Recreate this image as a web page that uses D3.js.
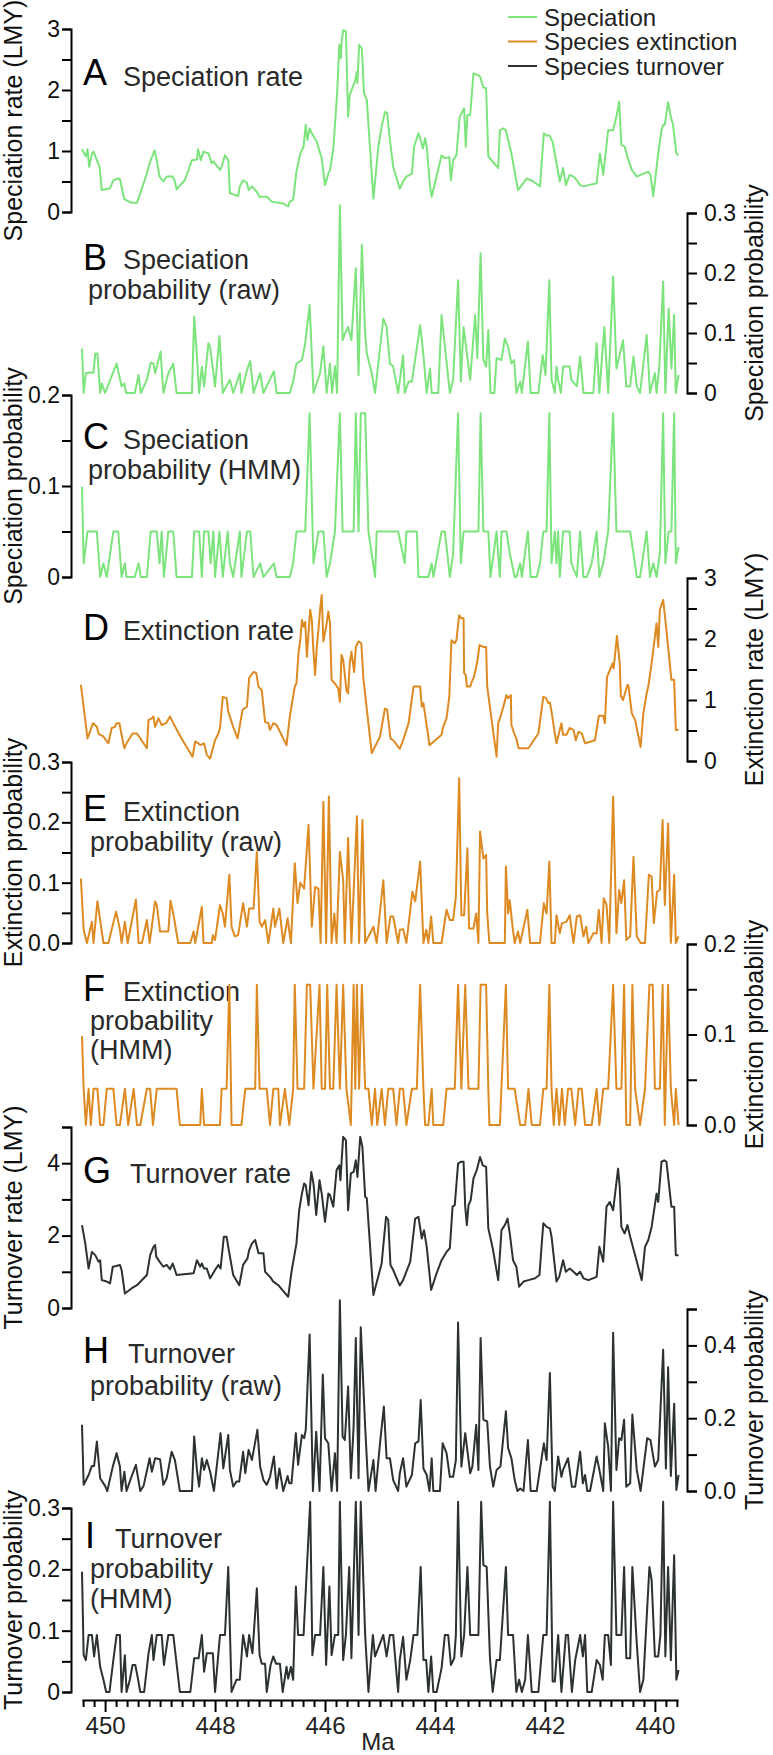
<!DOCTYPE html>
<html><head><meta charset="utf-8">
<script src="https://cdn.jsdelivr.net/npm/d3@7"></script>
<style>body{margin:0;background:#fff}svg{display:block}text{font-family:"Liberation Sans",Arial,Helvetica,sans-serif}</style>
</head><body><svg id="c" width="773" height="1755"></svg>
<script>
// ---------- DATA (Ma, value) ----------
const legendLabels = ["Speciation", "Species extinction", "Species turnover"];
const xMajorTicks = [450, 448, 446, 444, 442, 440];
const xAxisTitle = "Ma";

const speciationRate = [[450.42,1.03],[450.35,0.91],[450.32,1.03],[450.29,0.74],[450.24,0.96],[450.21,0.99],[450.15,0.85],[450.10,0.74],[450.06,0.36],[449.91,0.39],[449.85,0.52],[449.76,0.55],[449.73,0.54],[449.65,0.21],[449.52,0.15],[449.42,0.15],[449.24,0.63],[449.19,0.80],[449.10,1.01],[449.06,0.85],[449.01,0.58],[448.94,0.50],[448.88,0.58],[448.77,0.58],[448.73,0.50],[448.70,0.37],[448.55,0.52],[448.42,0.85],[448.33,0.86],[448.31,1.03],[448.29,0.96],[448.26,0.85],[448.21,0.99],[448.12,0.96],[448.06,0.80],[448.03,0.83],[447.91,0.69],[447.88,0.74],[447.82,0.93],[447.76,0.85],[447.73,0.31],[447.58,0.26],[447.55,0.42],[447.49,0.52],[447.42,0.48],[447.39,0.36],[447.33,0.42],[447.24,0.33],[447.19,0.25],[447.06,0.25],[446.97,0.17],[446.76,0.14],[446.67,0.09],[446.64,0.17],[446.58,0.20],[446.52,0.66],[446.45,0.96],[446.39,1.07],[446.35,1.43],[446.32,1.18],[446.28,1.37],[446.24,1.29],[446.15,1.15],[446.06,0.88],[446.00,0.44],[445.94,0.63],[445.91,0.69],[445.85,1.02],[445.78,1.95],[445.74,2.74],[445.71,2.52],[445.70,2.77],[445.67,2.98],[445.62,2.96],[445.58,1.56],[445.55,1.92],[445.45,2.16],[445.42,2.30],[445.41,2.11],[445.38,2.74],[445.33,2.68],[445.29,1.95],[445.24,1.84],[445.12,0.22],[445.03,1.07],[444.97,1.40],[444.91,1.64],[444.87,1.62],[444.82,1.18],[444.76,0.74],[444.64,0.38],[444.58,0.50],[444.52,0.58],[444.42,0.63],[444.38,1.07],[444.30,1.29],[444.26,1.18],[444.22,1.04],[444.18,1.21],[444.15,1.07],[444.09,0.42],[444.06,0.25],[443.88,0.93],[443.82,0.88],[443.74,0.90],[443.71,0.52],[443.67,0.85],[443.61,0.93],[443.55,1.56],[443.47,1.70],[443.44,1.07],[443.41,1.59],[443.36,1.59],[443.30,2.27],[443.23,2.25],[443.18,2.22],[443.12,2.04],[443.07,2.03],[443.03,0.91],[442.85,0.72],[442.82,1.34],[442.76,1.37],[442.71,1.34],[442.64,1.07],[442.61,0.96],[442.49,0.36],[442.33,0.55],[442.21,0.50],[442.09,0.42],[442.02,1.29],[441.97,1.25],[441.92,1.26],[441.86,1.15],[441.79,0.80],[441.73,0.50],[441.67,0.72],[441.62,0.44],[441.55,0.61],[441.48,0.58],[441.42,0.52],[441.36,0.44],[441.30,0.42],[441.06,0.47],[441.00,0.96],[440.94,0.61],[440.85,1.34],[440.76,1.34],[440.70,1.56],[440.65,1.81],[440.61,1.10],[440.55,1.07],[440.48,0.85],[440.42,0.69],[440.33,0.58],[440.21,0.63],[440.12,0.66],[440.08,0.61],[440.03,0.26],[439.94,0.96],[439.88,1.34],[439.85,1.43],[439.82,1.43],[439.76,1.80],[439.71,1.56],[439.67,1.43],[439.61,0.96],[439.57,0.93]];

const speciationProbRaw = [[450.42,0.074],[450.39,0],[450.35,0.033],[450.27,0.034],[450.21,0.034],[450.18,0.066],[450.14,0.066],[450.09,0],[450.06,0.016],[450.00,0],[449.79,0.049],[449.70,0.011],[449.65,0.016],[449.62,0],[449.46,0],[449.39,0.03],[449.35,0],[449.24,0.022],[449.17,0.051],[449.12,0.049],[449.09,0.033],[448.99,0.069],[448.94,0],[448.85,0.033],[448.76,0.049],[448.70,0],[448.42,0],[448.38,0.127],[448.33,0.061],[448.29,0],[448.24,0.044],[448.20,0.011],[448.12,0.083],[448.09,0.077],[448.03,0.033],[448.00,0.011],[447.92,0.095],[447.86,0],[447.73,0.022],[447.67,0],[447.55,0.033],[447.52,0],[447.42,0.038],[447.36,0.053],[447.30,0],[447.18,0.033],[447.12,0],[446.93,0.036],[446.88,0],[446.64,0],[446.58,0.019],[446.52,0.049],[446.42,0.055],[446.36,0.083],[446.28,0.147],[446.21,0],[446.09,0.033],[446.03,0.078],[445.97,0],[445.91,0.049],[445.87,0],[445.82,0.045],[445.78,0],[445.73,0.313],[445.68,0.088],[445.64,0.099],[445.58,0.11],[445.52,0.088],[445.44,0.208],[445.39,0.03],[445.33,0.247],[445.27,0.099],[445.24,0.066],[445.15,0.033],[445.09,0],[444.94,0.124],[444.88,0.11],[444.82,0.049],[444.76,0.044],[444.67,0],[444.58,0.063],[444.55,0],[444.48,0.019],[444.42,0.019],[444.27,0.113],[444.21,0.063],[444.15,0],[444.09,0.041],[444.06,0],[443.94,0],[443.88,0.13],[443.73,0],[443.67,0.022],[443.58,0.188],[443.53,0.019],[443.48,0.11],[443.36,0.022],[443.27,0.13],[443.23,0.058],[443.17,0.233],[443.12,0.055],[443.07,0.044],[443.03,0.105],[442.99,0],[442.92,0],[442.88,0.058],[442.79,0.055],[442.73,0.091],[442.67,0.077],[442.61,0.049],[442.56,0.055],[442.52,0],[442.45,0.019],[442.42,0],[442.31,0.086],[442.26,0],[442.12,0],[442.04,0.063],[441.99,0.03],[441.92,0.188],[441.88,0.022],[441.82,0],[441.79,0.044],[441.76,0.022],[441.71,0],[441.67,0.044],[441.55,0.044],[441.52,0.022],[441.42,0.011],[441.36,0.061],[441.30,0],[441.12,0],[441.06,0.083],[441.01,0],[440.92,0.11],[440.85,0],[440.76,0.194],[440.70,0.041],[440.58,0.088],[440.52,0.011],[440.45,0.011],[440.39,0.061],[440.33,0.011],[440.27,0],[440.15,0.097],[440.09,0],[440.00,0.033],[439.97,0],[439.92,0.044],[439.85,0.186],[439.81,0],[439.75,0.141],[439.70,0.041],[439.65,0.13],[439.62,0],[439.57,0.03]];

const speciationProbHMM = [[450.42,0.099],[450.39,0.015],[450.32,0.05],[450.15,0.05],[450.09,0],[450.03,0.015],[449.97,0],[449.85,0.05],[449.76,0.05],[449.70,0],[449.64,0.015],[449.61,0],[449.46,0],[449.39,0.015],[449.35,0],[449.24,0],[449.17,0.05],[449.06,0.05],[449.01,0.015],[448.97,0.05],[448.93,0],[448.85,0.05],[448.76,0.05],[448.70,0],[448.42,0],[448.38,0.05],[448.29,0.05],[448.24,0],[448.20,0.05],[448.12,0.05],[448.08,0.015],[448.03,0.05],[448.00,0],[447.92,0.05],[447.86,0],[447.77,0.05],[447.73,0.015],[447.67,0],[447.55,0.05],[447.52,0],[447.42,0.05],[447.36,0.05],[447.30,0],[447.18,0.015],[447.12,0],[446.93,0.015],[446.88,0],[446.64,0],[446.58,0.015],[446.52,0.05],[446.36,0.05],[446.28,0.18],[446.21,0.015],[446.12,0.05],[446.03,0.05],[445.97,0],[445.91,0.015],[445.82,0.05],[445.73,0.18],[445.68,0.05],[445.48,0.05],[445.44,0.18],[445.39,0.05],[445.35,0.18],[445.27,0.18],[445.21,0.05],[445.09,0],[445.06,0.05],[444.67,0.05],[444.55,0.015],[444.52,0.05],[444.33,0.05],[444.30,0],[444.12,0],[444.06,0.015],[444.03,0],[443.88,0.05],[443.82,0.05],[443.73,0],[443.67,0.026],[443.58,0.18],[443.53,0.015],[443.48,0.05],[443.21,0.05],[443.17,0.18],[443.12,0.05],[443.03,0.05],[442.99,0],[442.88,0.05],[442.82,0],[442.79,0.05],[442.70,0.05],[442.64,0.026],[442.55,0],[442.52,0],[442.45,0.015],[442.42,0],[442.31,0.05],[442.26,0],[442.15,0],[442.09,0.015],[442.03,0.05],[441.97,0.05],[441.92,0.18],[441.88,0.015],[441.82,0.05],[441.79,0.015],[441.76,0.05],[441.73,0],[441.67,0.05],[441.55,0.05],[441.52,0.015],[441.42,0],[441.36,0.05],[441.30,0],[441.24,0],[441.15,0.015],[441.06,0.05],[441.01,0],[440.94,0.015],[440.85,0.05],[440.76,0.18],[440.70,0.05],[440.45,0.05],[440.39,0.026],[440.33,0],[440.27,0],[440.15,0.05],[440.09,0],[440.03,0.015],[439.97,0],[439.91,0.026],[439.85,0.18],[439.81,0.015],[439.75,0.05],[439.70,0.05],[439.65,0.18],[439.62,0.015],[439.57,0.033]];

const extinctionRate = [[450.44,1.25],[450.32,0.37],[450.22,0.62],[450.15,0.56],[450.12,0.45],[450.03,0.40],[449.94,0.29],[449.88,0.54],[449.82,0.56],[449.79,0.62],[449.74,0.62],[449.70,0.43],[449.65,0.21],[449.61,0.29],[449.50,0.45],[449.42,0.45],[449.24,0.21],[449.21,0.67],[449.15,0.70],[449.12,0.73],[449.09,0.56],[449.03,0.70],[448.97,0.59],[448.89,0.62],[448.82,0.73],[448.76,0.62],[448.61,0.37],[448.41,0.07],[448.36,0.32],[448.30,0.29],[448.27,0.26],[448.20,0.29],[448.15,0.10],[448.09,0.04],[448.00,0.34],[447.94,0.45],[447.91,0.54],[447.86,1.05],[447.79,1.03],[447.76,0.81],[447.67,0.56],[447.59,0.37],[447.50,0.84],[447.42,0.89],[447.38,1.36],[447.30,1.46],[447.25,1.44],[447.21,1.22],[447.15,1.16],[447.09,0.64],[447.03,0.62],[447.00,0.51],[446.94,0.62],[446.88,0.59],[446.70,0.26],[446.64,0.73],[446.55,1.22],[446.52,1.27],[446.48,1.79],[446.45,1.98],[446.42,2.31],[446.39,2.20],[446.36,2.28],[446.33,1.71],[446.27,2.48],[446.24,2.31],[446.21,1.79],[446.18,1.41],[446.15,1.87],[446.12,2.15],[446.09,2.48],[446.06,2.72],[446.03,1.96],[445.98,2.20],[445.94,2.45],[445.91,2.26],[445.88,1.33],[445.82,1.27],[445.76,1.19],[445.73,0.97],[445.70,1.74],[445.67,1.66],[445.61,1.16],[445.58,1.11],[445.55,1.60],[445.52,1.79],[445.47,1.46],[445.44,1.87],[445.39,1.96],[445.34,1.93],[445.30,1.33],[445.15,0.13],[445.00,0.40],[444.91,0.86],[444.87,0.84],[444.81,0.37],[444.76,0.34],[444.64,0.20],[444.58,0.34],[444.48,0.62],[444.39,1.22],[444.27,1.22],[444.24,0.89],[444.21,0.95],[444.10,0.26],[443.88,0.43],[443.85,0.56],[443.79,0.70],[443.74,1.05],[443.70,1.98],[443.64,1.93],[443.61,1.98],[443.56,2.39],[443.52,2.34],[443.48,2.34],[443.47,1.44],[443.44,1.41],[443.42,1.22],[443.36,1.22],[443.33,1.30],[443.29,1.38],[443.23,1.63],[443.19,1.90],[443.12,1.87],[443.07,1.87],[443.05,1.22],[442.88,0.07],[442.85,0.62],[442.79,0.78],[442.70,1.08],[442.67,1.03],[442.62,1.08],[442.61,0.59],[442.56,0.45],[442.52,0.37],[442.48,0.21],[442.30,0.21],[442.12,0.45],[442.03,1.05],[441.98,1.03],[441.94,0.95],[441.91,0.96],[441.88,0.81],[441.82,0.45],[441.79,0.29],[441.70,0.62],[441.67,0.43],[441.61,0.43],[441.55,0.54],[441.48,0.51],[441.44,0.34],[441.39,0.48],[441.33,0.45],[441.27,0.29],[441.09,0.34],[441.02,0.74],[440.94,0.74],[440.91,0.62],[440.87,1.38],[440.82,1.49],[440.77,1.60],[440.75,1.52],[440.69,2.05],[440.64,1.60],[440.62,1.07],[440.58,1.00],[440.50,1.25],[440.48,1.23],[440.42,0.78],[440.36,0.67],[440.26,0.23],[440.21,0.78],[440.15,1.11],[440.12,1.22],[440.06,1.60],[439.97,2.26],[439.94,1.87],[439.91,2.48],[439.85,2.64],[439.81,2.31],[439.76,1.87],[439.70,1.33],[439.65,1.33],[439.62,0.51],[439.57,0.51]];

const extinctionProbRaw = [[450.44,0.107],[450.39,0.022],[450.33,0],[450.24,0.035],[450.21,0],[450.14,0.069],[450.09,0.038],[450.03,0],[449.94,0],[449.80,0.052],[449.73,0.022],[449.70,0],[449.64,0.035],[449.59,0],[449.44,0.072],[449.39,0],[449.33,0],[449.24,0.038],[449.19,0],[449.09,0.069],[449.06,0.063],[449.00,0.019],[448.85,0.019],[448.81,0.07],[448.76,0.049],[448.67,0],[448.45,0],[448.39,0.019],[448.36,0],[448.24,0.06],[448.21,0],[448.06,0],[448.04,0.013],[448.00,0.005],[447.91,0.063],[447.86,0.049],[447.82,0.027],[447.74,0.113],[447.70,0.027],[447.64,0.011],[447.58,0.013],[447.49,0.066],[447.42,0.027],[447.38,0.057],[447.30,0.057],[447.24,0.151],[447.19,0.035],[447.15,0.027],[447.09,0.038],[447.03,0],[446.94,0.057],[446.91,0.027],[446.83,0.057],[446.76,0],[446.68,0.041],[446.62,0],[446.55,0.132],[446.50,0.066],[446.45,0.10],[446.38,0.09],[446.30,0.196],[446.24,0.027],[446.18,0.093],[446.12,0.09],[446.08,0],[446.03,0.234],[445.98,0],[445.93,0.243],[445.88,0],[445.83,0.049],[445.79,0],[445.73,0.151],[445.67,0.104],[445.64,0],[445.58,0.174],[445.52,0],[445.42,0.21],[445.38,0],[445.32,0.204],[445.27,0],[445.12,0.027],[445.06,0],[444.94,0.104],[444.88,0],[444.81,0.044],[444.76,0.044],[444.67,0],[444.64,0.022],[444.58,0.023],[444.52,0],[444.41,0.085],[444.36,0.069],[444.27,0.135],[444.21,0],[444.16,0.022],[444.12,0],[444.07,0.044],[444.03,0],[443.88,0],[443.79,0.055],[443.73,0.038],[443.67,0.038],[443.62,0.077],[443.56,0.273],[443.52,0.046],[443.47,0.046],[443.41,0.157],[443.38,0.024],[443.30,0.024],[443.25,0.049],[443.21,0],[443.18,0.185],[443.12,0.14],[443.07,0.146],[443.05,0.049],[443.01,0],[442.73,0],[442.71,0.127],[442.67,0.049],[442.64,0.071],[442.59,0.027],[442.55,0],[442.49,0.019],[442.45,0],[442.32,0.055],[442.27,0],[442.09,0],[442.02,0.066],[441.97,0.049],[441.92,0.135],[441.88,0],[441.82,0],[441.79,0.046],[441.73,0.016],[441.69,0.033],[441.61,0.035],[441.55,0.046],[441.48,0],[441.42,0.044],[441.36,0.046],[441.30,0.011],[441.25,0.027],[441.21,0],[441.12,0.016],[441.06,0.016],[441.02,0.055],[440.97,0],[440.93,0.074],[440.88,0.063],[440.83,0],[440.76,0.243],[440.70,0.016],[440.65,0.088],[440.61,0.066],[440.56,0.104],[440.52,0.005],[440.45,0.011],[440.39,0.143],[440.33,0.011],[440.26,0],[440.18,0],[440.11,0.113],[440.06,0.11],[440.02,0.033],[439.96,0.085],[439.91,0.088],[439.86,0.204],[439.82,0.063],[439.76,0.198],[439.71,0],[439.65,0.113],[439.62,0],[439.57,0.011]];

const extinctionProbHMM = [[450.42,0.098],[450.39,0.04],[450.35,0],[450.30,0.04],[450.26,0],[450.21,0.04],[450.14,0.04],[450.09,0],[450.03,0],[449.97,0.04],[449.85,0.04],[449.79,0],[449.73,0],[449.64,0.04],[449.58,0],[449.48,0.04],[449.42,0],[449.36,0],[449.24,0.04],[449.18,0.04],[449.13,0],[449.06,0.04],[448.70,0.04],[448.64,0],[448.27,0],[448.24,0.04],[448.20,0],[447.91,0],[447.88,0.04],[447.79,0.04],[447.74,0.155],[447.70,0],[447.52,0],[447.45,0.04],[447.27,0.04],[447.24,0.155],[447.19,0.04],[447.06,0.04],[447.00,0],[446.94,0.04],[446.85,0.04],[446.82,0],[446.73,0.04],[446.65,0],[446.58,0.04],[446.55,0.155],[446.50,0.04],[446.38,0.04],[446.33,0.155],[446.27,0.155],[446.21,0.04],[446.10,0.155],[446.06,0.04],[446.00,0.04],[445.96,0.155],[445.91,0.04],[445.85,0.04],[445.79,0.155],[445.73,0.04],[445.67,0.155],[445.61,0.04],[445.53,0],[445.48,0.155],[445.45,0.04],[445.42,0.155],[445.38,0.04],[445.33,0.155],[445.27,0.04],[445.21,0.04],[445.15,0],[445.09,0.04],[445.05,0],[444.97,0.04],[444.91,0],[444.85,0.04],[444.76,0.04],[444.70,0],[444.64,0.04],[444.58,0.04],[444.52,0],[444.42,0.04],[444.33,0.04],[444.27,0.155],[444.21,0.04],[444.18,0],[444.12,0],[444.06,0.04],[444.03,0],[443.85,0],[443.79,0.04],[443.64,0.04],[443.58,0.155],[443.52,0.04],[443.45,0.155],[443.39,0.04],[443.21,0.04],[443.17,0.155],[443.07,0.155],[443.03,0.04],[443.01,0],[442.82,0],[442.71,0.155],[442.67,0.04],[442.55,0.04],[442.45,0],[442.36,0],[442.30,0.04],[442.24,0],[442.09,0],[442.03,0.04],[441.97,0.04],[441.92,0.155],[441.88,0.04],[441.84,0],[441.79,0.04],[441.74,0],[441.69,0.04],[441.64,0],[441.58,0.04],[441.52,0.04],[441.45,0],[441.39,0.04],[441.33,0.04],[441.27,0],[441.15,0],[441.06,0.04],[441.01,0],[440.94,0.04],[440.85,0.04],[440.76,0.155],[440.70,0.04],[440.61,0.04],[440.56,0.155],[440.52,0],[440.45,0],[440.41,0.155],[440.36,0.04],[440.27,0],[440.18,0.04],[440.10,0.155],[440.04,0.155],[440.00,0.04],[439.91,0.04],[439.86,0.155],[439.82,0],[439.76,0.155],[439.71,0.04],[439.65,0],[439.62,0.04],[439.57,0]];

const turnoverRate = [[450.42,2.29],[450.36,1.78],[450.30,1.09],[450.24,1.55],[450.18,1.46],[450.12,1.28],[450.09,1.32],[450.06,0.77],[449.97,0.73],[449.91,0.68],[449.86,1.14],[449.80,1.16],[449.73,1.19],[449.70,1.05],[449.64,0.40],[449.52,0.54],[449.42,0.63],[449.24,0.91],[449.18,1.46],[449.12,1.69],[449.09,1.74],[449.07,1.42],[449.01,1.28],[448.94,1.14],[448.88,1.19],[448.82,1.07],[448.77,1.23],[448.73,1.05],[448.70,0.91],[448.39,0.96],[448.33,1.32],[448.27,1.14],[448.24,1.23],[448.20,1.09],[448.15,1.09],[448.09,0.82],[448.00,1.05],[447.94,1.19],[447.90,1.09],[447.84,1.97],[447.79,1.97],[447.76,1.69],[447.67,0.91],[447.56,0.63],[447.49,1.19],[447.41,1.37],[447.38,1.60],[447.33,1.78],[447.27,1.88],[447.21,1.51],[447.12,1.51],[447.09,1.00],[447.00,0.86],[446.94,0.73],[446.85,0.63],[446.67,0.31],[446.61,1.00],[446.52,1.78],[446.47,2.70],[446.42,3.16],[446.38,3.44],[446.35,3.39],[446.30,2.84],[446.25,3.76],[446.21,3.44],[446.16,2.57],[446.10,3.53],[446.06,3.16],[446.00,2.38],[445.94,3.16],[445.91,3.12],[445.85,2.80],[445.79,3.81],[445.74,3.94],[445.72,3.53],[445.67,4.73],[445.62,4.63],[445.58,2.70],[445.53,3.72],[445.48,3.76],[445.44,4.08],[445.41,3.62],[445.36,4.73],[445.32,4.45],[445.27,3.07],[445.24,3.03],[445.12,0.36],[444.97,1.23],[444.89,2.52],[444.85,2.43],[444.81,1.19],[444.76,1.05],[444.64,0.62],[444.58,0.77],[444.45,1.28],[444.36,2.47],[444.30,2.52],[444.24,1.92],[444.20,2.15],[444.15,1.69],[444.07,0.50],[443.97,0.96],[443.88,1.32],[443.79,1.55],[443.73,1.65],[443.68,2.80],[443.64,2.84],[443.58,3.99],[443.53,4.04],[443.48,4.04],[443.45,2.80],[443.42,2.29],[443.39,2.84],[443.35,2.98],[443.30,3.58],[443.24,3.81],[443.18,4.17],[443.13,3.94],[443.07,3.90],[443.03,2.20],[442.95,1.65],[442.85,0.77],[442.79,2.15],[442.73,2.29],[442.68,2.47],[442.64,2.06],[442.58,1.32],[442.52,1.14],[442.47,0.59],[442.39,0.73],[442.30,0.77],[442.18,0.82],[442.10,0.91],[442.03,2.34],[441.97,2.24],[441.91,2.20],[441.88,1.97],[441.79,0.73],[441.74,0.86],[441.67,1.32],[441.62,1.00],[441.55,1.09],[441.48,1.00],[441.42,0.91],[441.36,1.00],[441.30,0.82],[441.21,0.77],[441.06,0.86],[441.01,1.69],[440.94,1.28],[440.88,2.80],[440.82,2.93],[440.76,2.70],[440.67,3.85],[440.64,3.35],[440.61,2.24],[440.55,2.06],[440.50,2.29],[440.45,1.97],[440.36,1.46],[440.24,0.77],[440.18,1.69],[440.12,1.88],[440.06,2.24],[439.97,3.16],[439.94,2.93],[439.88,4.04],[439.83,4.08],[439.79,4.04],[439.74,3.35],[439.70,2.80],[439.65,2.80],[439.62,1.46],[439.57,1.46]];

const turnoverProbRaw = [[450.42,0.182],[450.39,0.017],[450.30,0.044],[450.24,0.069],[450.20,0.069],[450.15,0.136],[450.09,0.035],[450.00,0.014],[449.96,0],[449.86,0.067],[449.79,0.104],[449.73,0.067],[449.70,0],[449.65,0.053],[449.61,0],[449.53,0.035],[449.44,0.072],[449.36,0],[449.30,0.014],[449.19,0.09],[449.15,0.053],[449.09,0.09],[449.00,0.087],[448.94,0.017],[448.88,0.035],[448.79,0.108],[448.73,0.085],[448.64,0],[448.42,0],[448.38,0.15],[448.33,0.058],[448.29,0.012],[448.24,0.09],[448.20,0.058],[448.15,0.085],[448.09,0.053],[448.02,0],[447.90,0.159],[447.85,0.062],[447.76,0.154],[447.73,0.058],[447.67,0.012],[447.61,0.026],[447.56,0.026],[447.49,0.108],[447.45,0.049],[447.39,0.113],[447.33,0.085],[447.23,0.168],[447.18,0.067],[447.12,0.03],[447.06,0.017],[447.00,0.039],[446.93,0.095],[446.88,0.007],[446.83,0.062],[446.76,0],[446.68,0.041],[446.65,0.021],[446.61,0.021],[446.53,0.159],[446.49,0.072],[446.42,0.154],[446.38,0.145],[446.35,0.168],[446.28,0.43],[446.22,0],[446.16,0.163],[446.10,0],[446.04,0.32],[446.00,0.145],[445.94,0.131],[445.88,0],[445.82,0.104],[445.78,0],[445.73,0.524],[445.68,0.15],[445.64,0.14],[445.58,0.287],[445.53,0.035],[445.48,0.177],[445.44,0.42],[445.39,0.035],[445.35,0.45],[445.27,0.177],[445.21,0],[445.12,0.085],[445.08,0],[445.00,0.131],[444.93,0.232],[444.88,0.09],[444.82,0.09],[444.76,0.03],[444.67,0],[444.64,0.049],[444.58,0.09],[444.52,0.012],[444.42,0.044],[444.36,0.131],[444.30,0.136],[444.26,0.25],[444.21,0.062],[444.15,0.044],[444.10,0],[444.06,0.09],[444.03,0],[443.91,0],[443.86,0.131],[443.79,0.104],[443.73,0.039],[443.67,0.039],[443.62,0.085],[443.58,0.463],[443.52,0.067],[443.45,0.159],[443.36,0.049],[443.32,0.067],[443.25,0.182],[443.21,0.058],[443.17,0.42],[443.12,0.196],[443.05,0.191],[443.00,0.067],[442.94,0.012],[442.88,0.058],[442.81,0.067],[442.71,0.219],[442.67,0.118],[442.61,0.09],[442.55,0.03],[442.50,0],[442.45,0.007],[442.39,0],[442.31,0.14],[442.26,0],[442.15,0],[442.02,0.131],[441.97,0.085],[441.91,0.324],[441.86,0.012],[441.82,0],[441.76,0.095],[441.70,0.039],[441.67,0.058],[441.58,0.09],[441.51,0.012],[441.45,0.012],[441.36,0.108],[441.31,0.021],[441.27,0.044],[441.23,0],[441.18,0],[441.06,0.095],[441.01,0.058],[440.94,0],[440.91,0.186],[440.85,0.122],[440.80,0],[440.76,0.435],[440.70,0.058],[440.65,0.145],[440.61,0.14],[440.56,0.196],[440.52,0.012],[440.45,0.021],[440.41,0.21],[440.33,0.058],[440.26,0],[440.19,0.085],[440.14,0.145],[440.08,0.14],[440.00,0.067],[439.94,0.085],[439.85,0.388],[439.80,0.062],[439.76,0.34],[439.71,0.041],[439.65,0.24],[439.61,0.003],[439.57,0.044]];

const turnoverProbHMM = [[450.42,0.196],[450.39,0.06],[450.35,0.052],[450.30,0.093],[450.24,0.093],[450.20,0.058],[450.15,0.093],[450.09,0.041],[450.03,0.02],[449.98,0],[449.92,0],[449.85,0.052],[449.79,0.093],[449.73,0.093],[449.70,0],[449.64,0.06],[449.61,0],[449.55,0.02],[449.50,0.044],[449.45,0.044],[449.41,0.025],[449.36,0],[449.29,0],[449.21,0.063],[449.15,0.093],[449.12,0.052],[449.06,0.093],[448.97,0.093],[448.93,0.044],[448.85,0.093],[448.76,0.093],[448.64,0],[448.45,0],[448.38,0.055],[448.30,0.055],[448.24,0.093],[448.20,0.033],[448.15,0.063],[448.04,0.063],[448.00,0],[447.91,0.093],[447.82,0.093],[447.76,0.204],[447.70,0],[447.61,0.02],[447.55,0.02],[447.49,0.093],[447.42,0.058],[447.38,0.093],[447.32,0.063],[447.24,0.169],[447.19,0.06],[447.15,0.046],[447.09,0.046],[447.06,0],[446.99,0.044],[446.94,0.058],[446.89,0.046],[446.82,0.046],[446.77,0],[446.70,0.041],[446.67,0.022],[446.62,0.041],[446.58,0.02],[446.53,0.172],[446.49,0.093],[446.39,0.093],[446.27,0.31],[446.23,0.06],[446.18,0.093],[446.09,0.093],[446.03,0.204],[445.98,0.044],[445.92,0.172],[445.88,0.06],[445.82,0.093],[445.76,0.093],[445.73,0.31],[445.67,0.052],[445.62,0.093],[445.56,0.204],[445.52,0.055],[445.44,0.31],[445.39,0.093],[445.35,0.31],[445.27,0.093],[445.21,0],[445.13,0.093],[445.09,0.058],[444.94,0.093],[444.88,0.058],[444.82,0.093],[444.76,0.093],[444.67,0],[444.64,0.052],[444.58,0.09],[444.52,0.02],[444.45,0.052],[444.39,0.093],[444.32,0.093],[444.26,0.204],[444.21,0.052],[444.16,0.052],[444.12,0],[444.07,0.058],[444.03,0],[443.97,0],[443.88,0.039],[443.82,0.093],[443.76,0.093],[443.71,0.044],[443.65,0.055],[443.62,0.093],[443.58,0.31],[443.52,0.058],[443.47,0.093],[443.41,0.204],[443.36,0.093],[443.21,0.093],[443.16,0.31],[443.12,0.207],[443.06,0.204],[443.00,0.055],[442.95,0],[442.88,0.052],[442.82,0.052],[442.71,0.204],[442.67,0.093],[442.58,0.093],[442.52,0],[442.47,0.02],[442.42,0],[442.36,0.02],[442.31,0.093],[442.24,0],[442.12,0],[442.03,0.093],[441.97,0.093],[441.91,0.31],[441.86,0.017],[441.82,0.017],[441.76,0.093],[441.70,0],[441.62,0.093],[441.58,0.093],[441.51,0],[441.45,0.052],[441.36,0.093],[441.31,0.058],[441.27,0.093],[441.23,0],[441.15,0],[441.06,0.052],[441.00,0.044],[440.95,0.02],[440.91,0.093],[440.85,0.093],[440.80,0.044],[440.76,0.31],[440.70,0.093],[440.61,0.093],[440.56,0.204],[440.52,0.055],[440.45,0.055],[440.41,0.204],[440.33,0.079],[440.27,0],[440.21,0.02],[440.10,0.204],[440.06,0.183],[440.00,0.058],[439.94,0.058],[439.90,0.093],[439.85,0.31],[439.81,0.058],[439.76,0.204],[439.71,0.052],[439.65,0.223],[439.61,0.02],[439.57,0.036]];

// tick values, labelled values and their label texts per axis
const ticksRate3 = [0, 0.5, 1, 1.5, 2, 2.5, 3];
const ticksProb03 = [0, 0.05, 0.1, 0.15, 0.2, 0.25, 0.3];
const ticksProb02 = [0, 0.05, 0.1, 0.15, 0.2];
const ticksRate5 = [0, 1, 2, 3, 4, 5];
const ticksProb05 = [0, 0.1, 0.2, 0.3, 0.4, 0.5];
const labelVals03 = [0, 0.1, 0.2, 0.3];
const labelVals02 = [0, 0.1, 0.2];
const labelValsRate3 = [0, 1, 2, 3];
const labelValsRate5 = [0, 2, 4];
const labelValsProb05 = [0, 0.2, 0.4];
const txtRate3 = ["0", "1", "2", "3"];
const txtRate5 = ["0", "2", "4"];
const txt03a = ["0", "0.1", "0.2", "0.3"];
const txt03b = ["0.0", "0.1", "0.2", "0.3"];
const txt02a = ["0", "0.1", "0.2"];
const txt02b = ["0.0", "0.1", "0.2"];
const txt05 = ["0.0", "0.2", "0.4"];

// ---------- DRAWING ----------
const svg = d3.select("#c");
const FONT = '"Liberation Sans",Arial,Helvetica,sans-serif';
const COL = {spec: "#7de47d", ext: "#de8a22", turn: "#2c3131"};
const x = d3.scaleLinear().domain([450.42, 439.58]).range([82, 678]);

const labeler = (vals, txts) => v => {
  const i = vals.findIndex(l => Math.abs(l - v) < 1e-9);
  return i >= 0 ? txts[i] : "";
};

const panels = [
  {data: speciationRate, color: COL.spec, side: "left", domain: [0, 3], range: [212, 29], ticks: ticksRate3,
   fmt: labeler(labelValsRate3, txtRate3), title: "Speciation rate (LMY)",
   letter: ["A", 83, 85], lines: [["Speciation rate", 123, 86]]},
  {data: speciationProbRaw, color: COL.spec, side: "right", domain: [0, 0.3], range: [393, 213], ticks: ticksProb03,
   fmt: labeler(labelVals03, txt03a), title: "Speciation probability",
   letter: ["B", 83, 270], lines: [["Speciation", 123, 269], ["probability (raw)", 88, 299]]},
  {data: speciationProbHMM, color: COL.spec, side: "left", domain: [0, 0.2], range: [577, 395], ticks: ticksProb02,
   fmt: labeler(labelVals02, txt02a), title: "Speciation probability",
   letter: ["C", 83, 449], lines: [["Speciation", 123, 449], ["probability (HMM)", 88, 479]]},
  {data: extinctionRate, color: COL.ext, side: "right", domain: [0, 3], range: [761, 578], ticks: ticksRate3,
   fmt: labeler(labelValsRate3, txtRate3), title: "Extinction rate (LMY)",
   letter: ["D", 83, 640], lines: [["Extinction rate", 123, 640]]},
  {data: extinctionProbRaw, color: COL.ext, side: "left", domain: [0, 0.3], range: [943, 762], ticks: ticksProb03,
   fmt: labeler(labelVals03, txt03b), title: "Extinction probability",
   letter: ["E", 83, 821], lines: [["Extinction", 123, 821], ["probability (raw)", 90, 851]]},
  {data: extinctionProbHMM, color: COL.ext, side: "right", domain: [0, 0.2], range: [1125, 944], ticks: ticksProb02,
   fmt: labeler(labelVals02, txt02b), title: "Extinction probability",
   letter: ["F", 83, 1001], lines: [["Extinction", 123, 1001], ["probability", 90, 1030], ["(HMM)", 90, 1059]]},
  {data: turnoverRate, color: COL.turn, side: "left", domain: [0, 5], range: [1308, 1127], ticks: ticksRate5,
   fmt: labeler(labelValsRate5, txtRate5), title: "Turnover rate (LMY)",
   letter: ["G", 83, 1183], lines: [["Turnover rate", 130, 1183]]},
  {data: turnoverProbRaw, color: COL.turn, side: "right", domain: [0, 0.5], range: [1491, 1309], ticks: ticksProb05,
   fmt: labeler(labelValsProb05, txt05), title: "Turnover probability",
   letter: ["H", 83, 1363], lines: [["Turnover", 128, 1363], ["probability (raw)", 90, 1395]]},
  {data: turnoverProbHMM, color: COL.turn, side: "left", domain: [0, 0.3], range: [1692, 1508], ticks: ticksProb03,
   fmt: labeler(labelVals03, txt03a), title: "Turnover probability",
   letter: ["I", 85, 1548], lines: [["Turnover", 115, 1548], ["probability", 90, 1578], ["(HMM)", 90, 1608]]}
];

panels.forEach(p => {
  const y = d3.scaleLinear().domain(p.domain).range(p.range);
  svg.append("text").attr("x", p.letter[1]).attr("y", p.letter[2]).text(p.letter[0])
    .attr("font-size", 36).attr("fill", "#000");
  p.lines.forEach(l => svg.append("text").attr("x", l[1]).attr("y", l[2]).text(l[0])
    .attr("font-size", 27).attr("fill", "#2a2a2a"));
  svg.append("path").datum(p.data)
    .attr("d", d3.line().x(d => x(d[0])).y(d => y(d[1])))
    .attr("fill", "none").attr("stroke", p.color).attr("stroke-width", 2).attr("stroke-linejoin", "round");
  const left = p.side === "left";
  const ax = (left ? d3.axisLeft(y) : d3.axisRight(y)).tickValues(p.ticks).tickFormat(p.fmt)
    .tickSizeOuter(0).tickSize(left ? 9 : 10).tickPadding(left ? 2 : 7);
  const g = svg.append("g").attr("transform", `translate(${left ? 71 : 687},0)`).call(ax);
  g.select(".domain").attr("stroke", "#000").attr("stroke-width", 2);
  g.selectAll(".tick line").attr("stroke", "#000").attr("stroke-width", 2);
  g.selectAll(".tick text").attr("font-size", 23).attr("font-family", FONT).attr("fill", "#111");
  const cy = (p.range[0] + p.range[1]) / 2;
  const tx = left ? 22 : 763;
  svg.append("text").attr("transform", `translate(${tx},${cy}) rotate(-90)`)
    .attr("text-anchor", "middle").attr("font-size", 25).attr("fill", "#111").text(p.title);
});

// x axis
const minor = d3.range(0, 55).map(i => +(450.4 - i * 0.2).toFixed(1)).filter(v => v >= 439.58 && !xMajorTicks.includes(v));
const gxMinor = svg.append("g").attr("transform", "translate(0,1700)")
  .call(d3.axisBottom(x).tickValues(minor).tickFormat("").tickSize(7).tickSizeOuter(0));
gxMinor.selectAll(".tick line").attr("stroke", "#000").attr("stroke-width", 2);
gxMinor.select(".domain").attr("stroke", "#000").attr("stroke-width", 2);
const gx = svg.append("g").attr("transform", "translate(0,1700)")
  .call(d3.axisBottom(x).tickValues(xMajorTicks).tickFormat(d3.format("d")).tickSize(12).tickSizeOuter(0).tickPadding(5));
gx.select(".domain").remove();
gx.selectAll(".tick line").attr("stroke", "#000").attr("stroke-width", 2);
gx.selectAll(".tick text").attr("font-size", 24).attr("font-family", FONT).attr("fill", "#222");
svg.append("text").attr("x", 378).attr("y", 1750).attr("text-anchor", "middle")
  .attr("font-size", 24).attr("fill", "#222").text(xAxisTitle);

// legend
const legCols = [COL.spec, COL.ext, COL.turn];
const legY = [17, 41.5, 66];
legendLabels.forEach((lab, i) => {
  svg.append("line").attr("x1", 508).attr("x2", 537).attr("y1", legY[i]).attr("y2", legY[i])
    .attr("stroke", legCols[i]).attr("stroke-width", 2);
  svg.append("text").attr("x", 544).attr("y", legY[i] + 8.5).attr("font-size", 24).attr("fill", "#222").text(lab);
});
</script></body></html>
